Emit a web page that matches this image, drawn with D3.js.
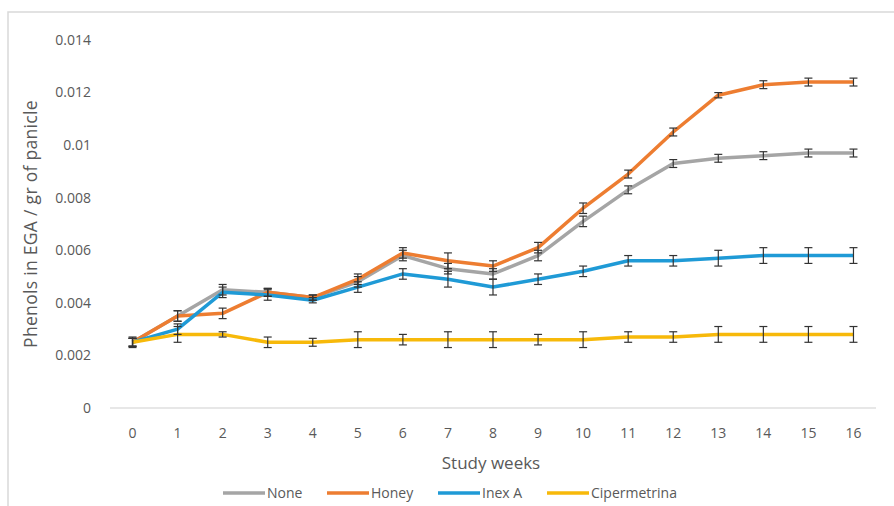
<!DOCTYPE html>
<html>
<head>
<meta charset="utf-8">
<script src="https://cdn.jsdelivr.net/npm/d3@7"></script>
<style>
  body { margin: 0; background: #fff; }
  text { font-family: "Open Sans", "Liberation Sans", sans-serif; }
</style>
</head>
<body>
<div id="chart"></div>
<script>
const weeks = [0, 1, 2, 3, 4, 5, 6, 7, 8, 9, 10, 11, 12, 13, 14, 15, 16];
const seriesNames = ["None", "Honey", "Inex A", "Cipermetrina"];
const noneVals = [0.0025, 0.0035, 0.0045, 0.0044, 0.0042, 0.0048, 0.0058, 0.0053, 0.0051, 0.0058, 0.0071, 0.0083, 0.0093, 0.0095, 0.0096, 0.0097, 0.0097];
const honeyVals = [0.0025, 0.0035, 0.0036, 0.0044, 0.0042, 0.0049, 0.0059, 0.0056, 0.0054, 0.0061, 0.0076, 0.0089, 0.0105, 0.0119, 0.0123, 0.0124, 0.0124];
const inexVals = [0.0025, 0.0030, 0.0044, 0.0043, 0.0041, 0.0046, 0.0051, 0.0049, 0.0046, 0.0049, 0.0052, 0.0056, 0.0056, 0.0057, 0.0058, 0.0058, 0.0058];
const ciperVals = [0.0025, 0.0028, 0.0028, 0.0025, 0.0025, 0.0026, 0.0026, 0.0026, 0.0026, 0.0026, 0.0026, 0.0027, 0.0027, 0.0028, 0.0028, 0.0028, 0.0028];
const noneErr = [0.00015, 0.0002, 0.0002, 0.00015, 0.0001, 0.0002, 0.0002, 0.0002, 0.0002, 0.0002, 0.0002, 0.00015, 0.00015, 0.00015, 0.00015, 0.00015, 0.00015];
const honeyErr = [0.00015, 0.0002, 0.0002, 0.00015, 0.0001, 0.0002, 0.0002, 0.0003, 0.0002, 0.0002, 0.0002, 0.00015, 0.00015, 0.0001, 0.00015, 0.00015, 0.00015];
const inexErr = [0.00015, 0.0002, 0.0002, 0.0002, 0.0001, 0.0002, 0.0002, 0.0003, 0.0003, 0.0002, 0.0002, 0.0002, 0.0002, 0.0003, 0.0003, 0.0003, 0.0003];
const ciperErr = [0.0002, 0.0003, 0.0001, 0.0002, 0.00015, 0.0003, 0.0002, 0.0003, 0.0003, 0.0002, 0.0003, 0.0002, 0.0002, 0.0003, 0.0003, 0.0003, 0.0003];
const yTicks = [0, 0.002, 0.004, 0.006, 0.008, 0.01, 0.012, 0.014];
const colors = ["#a5a5a5", "#ed7d31", "#1f9ad6", "#f7b90a"];

const W = 894, H = 506;
const svg = d3.select("#chart").append("svg").attr("width", W).attr("height", H);

// outer chart frame
svg.append("rect")
  .attr("x", 8).attr("y", 12)
  .attr("width", W + 20).attr("height", H + 20)
  .attr("fill", "none")
  .attr("stroke", "#d9d9d9")
  .attr("stroke-width", 1.5);

const x = d3.scalePoint().domain(weeks).range([110, 876]).padding(0.5);
const y = d3.scaleLinear().domain([0, 0.014]).range([408, 40]);

// x axis line
svg.append("line")
  .attr("x1", 110).attr("x2", 876)
  .attr("y1", y(0)).attr("y2", y(0))
  .attr("stroke", "#d0d0d0").attr("stroke-width", 1.2);

// y tick labels
svg.append("g").selectAll("text")
  .data(yTicks)
  .enter()
  .append("text")
  .attr("x", 91)
  .attr("y", (d) => y(d))
  .attr("dy", "0.35em")
  .attr("text-anchor", "end")
  .style("font-size", "14px")
  .style("fill", "#595959")
  .text((d) => (d === 0 ? "0" : String(+d.toFixed(3))));

// x tick labels
svg.append("g").selectAll("text")
  .data(weeks)
  .enter()
  .append("text")
  .attr("x", (d) => x(d))
  .attr("y", 433)
  .attr("dy", "0.35em")
  .attr("text-anchor", "middle")
  .style("font-size", "14px")
  .style("fill", "#595959")
  .text((d) => d);

// axis titles
svg.append("text")
  .attr("x", 491).attr("y", 463)
  .attr("dy", "0.35em")
  .attr("text-anchor", "middle")
  .style("font-size", "17px")
  .style("fill", "#595959")
  .text("Study weeks");

svg.append("text")
  .attr("transform", "translate(31, 224) rotate(-90)")
  .attr("dy", "0.35em")
  .attr("text-anchor", "middle")
  .style("font-size", "17.5px")
  .style("letter-spacing", "0.3px")
  .style("fill", "#595959")
  .text("Phenols in EGA / gr of panicle");

// series
const allVals = [noneVals, honeyVals, inexVals, ciperVals];
const allErr = [noneErr, honeyErr, inexErr, ciperErr];

const line = d3.line()
  .x((d, i) => x(weeks[i]))
  .y((d) => y(d));

allVals.forEach((vals, s) => {
  svg.append("path")
    .datum(vals)
    .attr("fill", "none")
    .attr("stroke", colors[s])
    .attr("stroke-width", 3.5)
    .attr("stroke-linejoin", "round")
    .attr("d", line);
});

// error bars on top
allVals.forEach((vals, s) => {
  const g = svg.append("g")
    .attr("stroke", "#333")
    .attr("stroke-width", 1.2);
  vals.forEach((v, i) => {
    const cx = x(weeks[i]);
    const e = allErr[s][i];
    g.append("line").attr("x1", cx).attr("x2", cx).attr("y1", y(v + e)).attr("y2", y(v - e));
    g.append("line").attr("x1", cx - 4).attr("x2", cx + 4).attr("y1", y(v + e)).attr("y2", y(v + e));
    g.append("line").attr("x1", cx - 4).attr("x2", cx + 4).attr("y1", y(v - e)).attr("y2", y(v - e));
  });
});

// legend
const legendX = [223, 327, 438, 547];
const legend = svg.append("g");
seriesNames.forEach((name, i) => {
  legend.append("line")
    .attr("x1", legendX[i]).attr("x2", legendX[i] + 42)
    .attr("y1", 493).attr("y2", 493)
    .attr("stroke", colors[i])
    .attr("stroke-width", 3.5);
  legend.append("text")
    .attr("x", legendX[i] + 44)
    .attr("y", 493)
    .attr("dy", "0.35em")
    .style("font-size", "14px")
    .style("fill", "#595959")
    .text(name);
});
</script>
</body>
</html>
